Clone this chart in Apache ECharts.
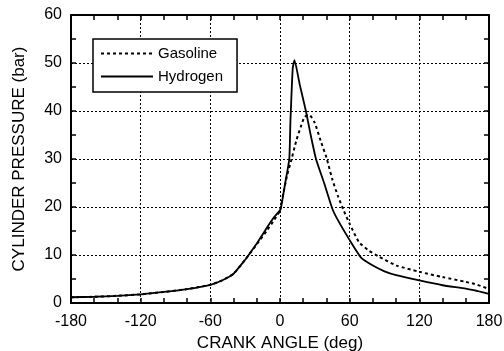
<!DOCTYPE html>
<html>
<head>
<meta charset="utf-8">
<script src="https://cdn.jsdelivr.net/npm/echarts@6/dist/echarts.min.js"></script>
<style>html,body{margin:0;padding:0;background:#fff}#c{width:504px;height:351px}</style>
</head>
<body>
<div id="c"></div>
<script>
const xTicks = [-180, -120, -60, 0, 60, 120, 180];
const yTicks = [0, 10, 20, 30, 40, 50, 60];
const seriesNames = ['Gasoline', 'Hydrogen'];

const hydrogenAngle = [-180,-160,-140,-120,-100,-80,-60,-50,-40,-30,-27,-20,-11,-6,0,1,4.5,8,9,10,11,12.5,17,22.3,26,31,38,45,50,60,70,80,90,100,120,140,160,170,180];
const hydrogenPressure = [1.2,1.3,1.5,1.8,2.3,2.9,3.8,4.7,6.1,9.0,10,12.4,15.8,17.6,19.3,20,25,30,38,44,49,50.6,45.5,40,35.5,30,25,19.7,17.2,13.1,9.4,7.8,6.6,5.8,4.7,3.7,3.0,2.5,1.9];

const gasolineAngle = [-180,-160,-140,-120,-100,-80,-60,-50,-40,-30,-27,-20,-11,-5,0,3,6,10,14,18,21,24,26,30,35,40,45,50,55,60,68,76,85,100,120,140,160,170,180];
const gasolinePressure = [1.2,1.3,1.5,1.8,2.3,2.9,3.8,4.7,6.1,9.0,10,12.2,15.2,17.3,19.3,23,26.5,30,33.8,36.8,38.7,39.2,39.1,37.5,33.8,30.3,25.8,22.2,19.2,16.5,12.7,11,9.7,7.85,6.5,5.4,4.4,3.8,2.9];

const zip = (a, b) => a.map((v, i) => [v, b[i]]);
const FONT = 'Liberation Sans, Arial, sans-serif';
const chart = echarts.init(document.getElementById('c'));

const baseX = {
  type: 'value', min: xTicks[0], max: xTicks[xTicks.length - 1], interval: 60,
  axisLine: { show: true, onZero: false, lineStyle: { color: '#000', width: 2 } },
  axisTick: { show: true, inside: true, length: 5, lineStyle: { color: '#000', width: 1.5 } },
  minorTick: { show: true, splitNumber: 3, length: 5, lineStyle: { color: '#000', width: 1.5 } }
};
const baseY = {
  type: 'value', min: yTicks[0], max: yTicks[yTicks.length - 1], interval: 10,
  axisLine: { show: true, onZero: false, lineStyle: { color: '#000', width: 2 } },
  axisTick: { show: true, inside: true, length: 5, lineStyle: { color: '#000', width: 1.5 } },
  minorTick: { show: true, splitNumber: 2, length: 5, lineStyle: { color: '#000', width: 1.5 } }
};

chart.setOption({
  animation: false,
  backgroundColor: '#fff',
  textStyle: { fontFamily: FONT },
  grid: { left: 71, right: 15, top: 15, bottom: 48, containLabel: false, outerBoundsMode: 'none' },
  legend: {
    orient: 'vertical', left: 93, top: 39,
    padding: [7, 14, 8, 7], itemGap: 8,
    itemWidth: 52, itemHeight: 14,
    backgroundColor: '#fff', borderColor: '#000', borderWidth: 1.5, borderRadius: 0,
    itemStyle: { color: 'transparent', borderWidth: 0, opacity: 0 },
    textStyle: { fontFamily: FONT, fontSize: 15, color: '#000' },
    data: seriesNames
  },
  xAxis: [
    Object.assign({}, baseX, {
      position: 'bottom',
      axisLabel: { show: true, margin: 11, fontSize: 16, color: '#000', fontFamily: FONT },
      splitLine: { show: true, lineStyle: { color: '#000', width: 1, type: [2, 2] } },
      name: 'CRANK ANGLE (deg)', nameLocation: 'middle', nameGap: 30,
      nameTextStyle: { fontSize: 17, color: '#000', fontFamily: FONT }
    }),
    Object.assign({}, baseX, {
      position: 'top', axisLabel: { show: false }, splitLine: { show: false }
    })
  ],
  yAxis: [
    Object.assign({}, baseY, {
      position: 'left',
      axisLabel: { show: true, margin: 9, fontSize: 16, color: '#000', fontFamily: FONT },
      splitLine: { show: true, lineStyle: { color: '#000', width: 1, type: [2, 2] } },
      name: 'CYLINDER PRESSURE (bar)', nameLocation: 'middle', nameGap: 43,
      nameTextStyle: { fontSize: 17, color: '#000', fontFamily: FONT }
    }),
    Object.assign({}, baseY, {
      position: 'right', axisLabel: { show: false }, splitLine: { show: false }
    })
  ],
  series: [
    {
      name: seriesNames[0], type: 'line', xAxisIndex: 0, yAxisIndex: 0,
      data: zip(gasolineAngle, gasolinePressure),
      showSymbol: false, symbol: 'none', smooth: 0.2,
      lineStyle: { color: '#000', width: 2, type: [3, 3] },
      itemStyle: { color: '#000' }, z: 3
    },
    {
      name: seriesNames[1], type: 'line', xAxisIndex: 0, yAxisIndex: 0,
      data: zip(hydrogenAngle, hydrogenPressure),
      showSymbol: false, symbol: 'none', smooth: 0.15,
      lineStyle: { color: '#000', width: 1.8, type: 'solid' },
      itemStyle: { color: '#000' }, z: 4
    }
  ]
});
</script>
</body>
</html>
